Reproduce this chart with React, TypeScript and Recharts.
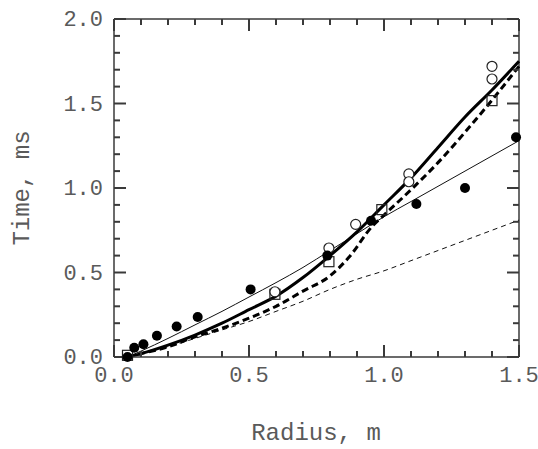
import React from 'react';
import { ComposedChart, Line, Scatter, XAxis, YAxis, ReferenceLine } from 'recharts';

// tick positions (every 0.1, labels on the 0.5 ones)
const xTicks = [0, 0.1, 0.2, 0.3, 0.4, 0.5, 0.6, 0.7, 0.8, 0.9, 1.0, 1.1, 1.2, 1.3, 1.4, 1.5];
const yTicks = [0, 0.1, 0.2, 0.3, 0.4, 0.5, 0.6, 0.7, 0.8, 0.9, 1.0, 1.1, 1.2, 1.3, 1.4, 1.5, 1.6, 1.7, 1.8, 1.9, 2.0];

// model curves
const thinSolid = [
  { x: 0.05, y: 0.0 }, { x: 0.1, y: 0.035 }, { x: 0.2, y: 0.11 }, { x: 0.3, y: 0.19 },
  { x: 0.4, y: 0.27 }, { x: 0.5, y: 0.355 }, { x: 0.6, y: 0.44 }, { x: 0.7, y: 0.53 },
  { x: 0.8, y: 0.63 }, { x: 0.9, y: 0.73 }, { x: 1.0, y: 0.83 }, { x: 1.1, y: 0.92 },
  { x: 1.2, y: 1.01 }, { x: 1.3, y: 1.1 }, { x: 1.4, y: 1.19 }, { x: 1.5, y: 1.28 },
];
const thickSolid = [
  { x: 0.05, y: 0.0 }, { x: 0.1, y: 0.02 }, { x: 0.2, y: 0.07 }, { x: 0.3, y: 0.13 },
  { x: 0.4, y: 0.2 }, { x: 0.5, y: 0.28 }, { x: 0.6, y: 0.36 }, { x: 0.7, y: 0.47 },
  { x: 0.8, y: 0.6 }, { x: 0.9, y: 0.74 }, { x: 1.0, y: 0.9 }, { x: 1.1, y: 1.06 },
  { x: 1.2, y: 1.24 }, { x: 1.3, y: 1.42 }, { x: 1.4, y: 1.58 }, { x: 1.5, y: 1.75 },
];
const thickDashed = [
  { x: 0.05, y: 0.0 }, { x: 0.1, y: 0.02 }, { x: 0.2, y: 0.06 }, { x: 0.3, y: 0.12 },
  { x: 0.4, y: 0.17 }, { x: 0.5, y: 0.23 }, { x: 0.6, y: 0.3 }, { x: 0.7, y: 0.39 },
  { x: 0.8, y: 0.48 }, { x: 0.87, y: 0.59 }, { x: 0.96, y: 0.78 }, { x: 1.0, y: 0.84 },
  { x: 1.1, y: 0.99 }, { x: 1.2, y: 1.15 }, { x: 1.3, y: 1.33 }, { x: 1.4, y: 1.52 },
  { x: 1.5, y: 1.72 },
];
const thinDashed = [
  { x: 0.05, y: 0.0 }, { x: 0.1, y: 0.02 }, { x: 0.2, y: 0.06 }, { x: 0.3, y: 0.11 },
  { x: 0.4, y: 0.16 }, { x: 0.5, y: 0.21 }, { x: 0.6, y: 0.27 }, { x: 0.7, y: 0.33 },
  { x: 0.8, y: 0.4 }, { x: 0.9, y: 0.46 }, { x: 1.0, y: 0.51 }, { x: 1.1, y: 0.57 },
  { x: 1.2, y: 0.63 }, { x: 1.3, y: 0.69 }, { x: 1.4, y: 0.75 }, { x: 1.5, y: 0.81 },
];

// measurements
const filledDots = [
  { x: 0.05, y: 0.0 }, { x: 0.075, y: 0.055 }, { x: 0.109, y: 0.075 }, { x: 0.159, y: 0.126 },
  { x: 0.232, y: 0.18 }, { x: 0.31, y: 0.237 }, { x: 0.506, y: 0.4 }, { x: 0.79, y: 0.6 },
  { x: 0.952, y: 0.806 }, { x: 1.12, y: 0.905 }, { x: 1.3, y: 1.0 }, { x: 1.489, y: 1.3 },
];
const openDots = [
  { x: 0.596, y: 0.386 }, { x: 0.796, y: 0.645 }, { x: 0.895, y: 0.785 },
  { x: 1.092, y: 1.083 }, { x: 1.092, y: 1.037 }, { x: 1.4, y: 1.72 }, { x: 1.4, y: 1.645 },
];
const squares = [
  { x: 0.05, y: 0.01 }, { x: 0.596, y: 0.371 }, { x: 0.796, y: 0.564 },
  { x: 0.992, y: 0.872 }, { x: 1.4, y: 1.517 },
];

const W = 538;
const H = 449;
const M = { top: 19, right: 19, left: 0, bottom: 0 };
const FONT = '"Liberation Mono", "Courier New", monospace';
const FRAME = '#3a3a3a';
const TEXT = '#5a5a5a';

const isMajor = (v: number) => Math.abs(v * 2 - Math.round(v * 2)) < 1e-6;

// tick marks placed on the frame edges, drawn as scatter glyphs
const bottomMarks = xTicks.map((v) => ({ x: v, y: 0, len: isMajor(v) ? 12 : 6 }));
const topMarks = xTicks.map((v) => ({ x: v, y: 2, len: isMajor(v) ? 12 : 6 }));
const leftMarks = yTicks.map((v) => ({ x: 0, y: v, len: isMajor(v) ? 12 : 6 }));
const rightMarks = yTicks.map((v) => ({ x: 1.5, y: v, len: isMajor(v) ? 12 : 6 }));

const markLen = (p: any) => Number(p.len ?? p.payload?.len ?? 6);

const TickUp = (p: any) => (
  <line x1={p.cx} y1={p.cy} x2={p.cx} y2={p.cy - markLen(p)} stroke={FRAME} strokeWidth={2} />
);
const TickDown = (p: any) => (
  <line x1={p.cx} y1={p.cy} x2={p.cx} y2={p.cy + markLen(p)} stroke={FRAME} strokeWidth={2} />
);
const TickRight = (p: any) => (
  <line x1={p.cx} y1={p.cy} x2={p.cx + markLen(p)} y2={p.cy} stroke={FRAME} strokeWidth={2} />
);
const TickLeft = (p: any) => (
  <line x1={p.cx} y1={p.cy} x2={p.cx - markLen(p)} y2={p.cy} stroke={FRAME} strokeWidth={2} />
);

function XLabel({ x, y, payload }: any) {
  if (!isMajor(payload.value)) return <g />;
  return (
    <text x={x} y={y + 25} textAnchor="middle" fontSize={22} fontFamily={FONT} fill={TEXT}>
      {Number(payload.value).toFixed(1)}
    </text>
  );
}

function YLabel({ x, y, payload }: any) {
  if (!isMajor(payload.value)) return <g />;
  return (
    <text x={x - 11} y={y + 7} textAnchor="end" fontSize={22} fontFamily={FONT} fill={TEXT}>
      {Number(payload.value).toFixed(1)}
    </text>
  );
}

const FilledDot = ({ cx, cy }: any) => <circle cx={cx} cy={cy} r={5} fill="#000" />;
const OpenDot = ({ cx, cy }: any) => (
  <circle cx={cx} cy={cy} r={5} fill="#fff" stroke="#222" strokeWidth={1.2} />
);
const OpenSquare = ({ cx, cy }: any) => (
  <rect x={cx - 5} y={cy - 5} width={10} height={10} fill="none" stroke="#222" strokeWidth={1.2} />
);

export default function App() {
  return (
    <div style={{ position: 'absolute', left: 0, top: 0 }}>
      <ComposedChart width={W} height={H} margin={M}>
        <XAxis
          dataKey="x"
          type="number"
          domain={[0, 1.5]}
          ticks={xTicks}
          interval={0}
          height={92}
          tickSize={0}
          tickMargin={0}
          tickLine={false}
          axisLine={{ stroke: FRAME, strokeWidth: 1.5 }}
          tick={XLabel}
        />
        <YAxis
          type="number"
          domain={[0, 2]}
          ticks={yTicks}
          interval={0}
          width={114}
          tickSize={0}
          tickMargin={0}
          tickLine={false}
          axisLine={{ stroke: FRAME, strokeWidth: 1.5 }}
          tick={YLabel}
        />
        {/* top and right frame */}
        <ReferenceLine y={2} stroke={FRAME} strokeWidth={1.5} />
        <ReferenceLine x={1.5} stroke={FRAME} strokeWidth={1.5} />

        {/* inward ticks on all four sides */}
        <Scatter data={bottomMarks} dataKey="y" shape={TickUp} isAnimationActive={false} />
        <Scatter data={topMarks} dataKey="y" shape={TickDown} isAnimationActive={false} />
        <Scatter data={leftMarks} dataKey="y" shape={TickRight} isAnimationActive={false} />
        <Scatter data={rightMarks} dataKey="y" shape={TickLeft} isAnimationActive={false} />

        <Line data={thinDashed} dataKey="y" type="monotone" dot={false}
          stroke="#111" strokeWidth={1} strokeDasharray="5 4" isAnimationActive={false} />
        <Line data={thinSolid} dataKey="y" type="monotone" dot={false}
          stroke="#111" strokeWidth={1} isAnimationActive={false} />
        <Line data={thickDashed} dataKey="y" type="monotone" dot={false}
          stroke="#000" strokeWidth={3} strokeDasharray="7 4" isAnimationActive={false} />
        <Line data={thickSolid} dataKey="y" type="monotone" dot={false}
          stroke="#000" strokeWidth={3} isAnimationActive={false} />

        <Scatter data={squares} dataKey="y" shape={OpenSquare} isAnimationActive={false} />
        <Scatter data={openDots} dataKey="y" shape={OpenDot} isAnimationActive={false} />
        <Scatter data={filledDots} dataKey="y" shape={FilledDot} isAnimationActive={false} />
      </ComposedChart>
      <svg width={W} height={H} style={{ position: 'absolute', left: 0, top: 0, pointerEvents: 'none' }}>
        <text x={316} y={440} textAnchor="middle" fontSize={24} fontFamily={FONT} fill={TEXT}>
          Radius, m
        </text>
        <text
          x={22}
          y={188}
          transform="rotate(-90 22 188)"
          textAnchor="middle"
          dominantBaseline="central"
          fontSize={24}
          fontFamily={FONT}
          fill={TEXT}
        >
          Time, ms
        </text>
      </svg>
    </div>
  );
}
